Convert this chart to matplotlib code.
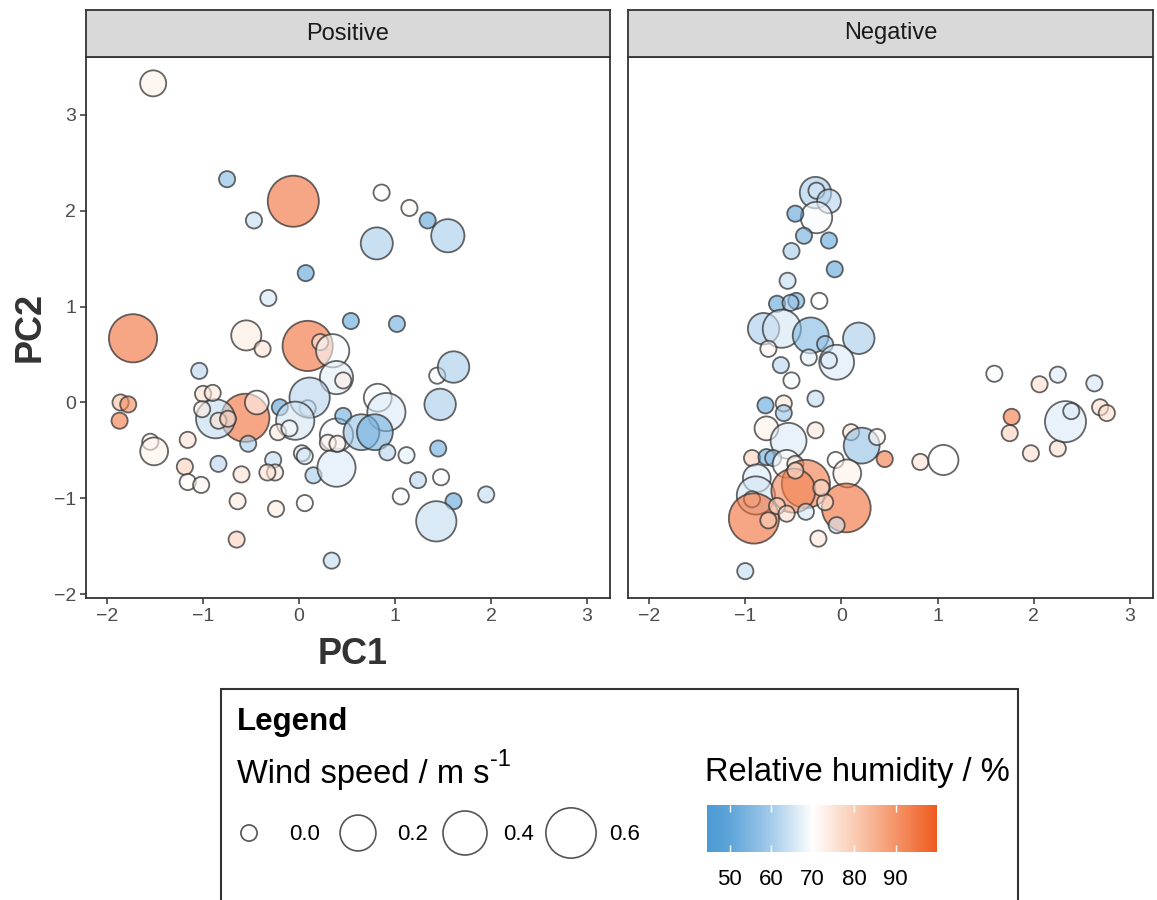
import numpy as np
import matplotlib.pyplot as plt
from matplotlib.colors import LinearSegmentedColormap, Normalize
from matplotlib.patches import Rectangle

plt.rcParams['font.family'] = ['Liberation Sans', 'DejaVu Sans']

W, H = 1157, 900

# PCA scores, wind speed (m/s) and relative humidity (%) for the positive group
pos_pc1 = [-1.52, -0.75, -0.06, -0.47, 0.07, -0.32, 0.86, 1.15, 1.34, 1.55,
           0.81, 0.54, 1.02, -1.73, -0.55, -0.38, 0.09, 0.22, 0.35, 0.39,
           0.46, -1.04, -1.86, -1.78, -1.87, -1.55, -1.51, -1.16, -1.19, -1.16,
           -1.02, -0.84, -0.60, -0.64, -0.65, -0.24, 0.06, 0.34, -0.56, -0.87,
           -0.44, -0.53, -1.00, -0.90, -1.01, -0.84, -0.74, -0.20, 0.09, 0.11,
           -0.04, -0.22, -0.10, -0.27, -0.25, -0.33, 0.03, 0.06, 0.15, 0.39,
           0.39, 0.30, 0.40, 0.46, 0.82, 0.91, 0.65, 0.79, 0.92, 1.12,
           1.44, 1.61, 1.47, 1.45, 1.24, 1.48, 1.06, 1.61, 1.95, 1.43]
pos_pc2 = [3.33, 2.33, 2.10, 1.90, 1.35, 1.09, 2.19, 2.03, 1.90, 1.74,
           1.66, 0.85, 0.82, 0.67, 0.70, 0.56, 0.59, 0.63, 0.54, 0.26,
           0.23, 0.33, 0.00, -0.02, -0.19, -0.41, -0.51, -0.39, -0.67, -0.83,
           -0.86, -0.64, -0.75, -1.03, -1.43, -1.11, -1.05, -1.65, -0.16, -0.17,
           0.00, -0.43, 0.09, 0.10, -0.07, -0.19, -0.17, -0.05, -0.06, 0.05,
           -0.19, -0.31, -0.27, -0.60, -0.73, -0.73, -0.53, -0.56, -0.76, -0.68,
           -0.34, -0.42, -0.43, -0.14, 0.05, -0.10, -0.31, -0.31, -0.52, -0.55,
           0.28, 0.37, -0.02, -0.48, -0.81, -0.78, -0.98, -1.03, -0.96, -1.24]
pos_ws = [0.05, 0, 0.63, 0, 0, 0, 0, 0, 0, 0.15,
          0.13, 0, 0, 0.53, 0.10, 0, 0.60, 0, 0.15, 0.15,
          0, 0, 0, 0, 0, 0, 0.07, 0, 0, 0,
          0, 0, 0, 0, 0, 0, 0, 0, 0.53, 0.27,
          0.03, 0, 0, 0, 0, 0, 0, 0, 0, 0.30,
          0.25, 0, 0, 0, 0, 0, 0, 0, 0, 0.25,
          0.15, 0, 0, 0, 0.07, 0.25, 0.20, 0.20, 0, 0,
          0, 0.12, 0.12, 0, 0, 0, 0, 0, 0, 0.30]
pos_rh = [73, 55, 97, 63, 49, 65, 70, 71, 49, 60,
          60, 50, 52, 97, 74, 76, 97, 75, 69, 67,
          74, 62, 82, 92, 95, 71, 73, 76, 79, 71,
          72, 62, 76, 74, 79, 74, 70, 63, 97, 63,
          72, 60, 76, 75, 74, 76, 79, 49, 67, 62,
          65, 74, 69, 63, 75, 76, 66, 65, 60, 66,
          69, 73, 73, 52, 69, 66, 58, 53, 62, 67,
          69, 60, 60, 52, 62, 69, 69, 50, 63, 63]

# same variables for the negative group
neg_pc1 = [-0.27, -0.26, -0.13, -0.26, -0.48, -0.39, -0.13, -0.52, -0.07, -0.56,
           -0.67, -0.47, -0.53, -0.23, -0.81, -0.62, -0.32, 0.18, -0.76, -0.17,
           -0.34, -0.05, -0.13, -0.63, -0.52, -0.27, -0.79, -0.60, -0.60, -0.78,
           -0.55, -0.27, 0.10, 0.21, 0.37, 0.45, -0.06, 0.06, -0.93, -0.78,
           -0.71, -0.57, -0.48, -0.88, -0.89, -0.93, -0.91, -0.37, -0.50, 0.05,
           -0.05, -0.24, -1.00, -0.37, -0.67, -0.57, -0.76, -0.17, -0.21, -0.48,
           0.82, 1.06, 1.59, 1.77, 1.75, 2.06, 2.25, 1.97, 2.25, 2.33,
           2.39, 2.63, 2.69, 2.76]
neg_pc2 = [2.19, 2.21, 2.10, 1.93, 1.97, 1.74, 1.69, 1.58, 1.39, 1.27,
           1.03, 1.06, 1.04, 1.06, 0.77, 0.77, 0.70, 0.67, 0.56, 0.61,
           0.47, 0.42, 0.44, 0.39, 0.23, 0.04, -0.03, -0.01, -0.11, -0.27,
           -0.40, -0.29, -0.31, -0.45, -0.36, -0.59, -0.60, -0.74, -0.58, -0.57,
           -0.58, -0.64, -0.64, -0.79, -0.97, -1.01, -1.21, -0.85, -0.92, -1.10,
           -1.28, -1.42, -1.76, -1.14, -1.08, -1.16, -1.23, -1.04, -0.89, -0.71,
           -0.62, -0.60, 0.30, -0.15, -0.32, 0.19, 0.29, -0.53, -0.48, -0.20,
           -0.09, 0.20, -0.05, -0.11]
neg_ws = [0.12, 0, 0.03, 0.12, 0, 0, 0, 0, 0, 0,
          0, 0, 0, 0, 0.12, 0.25, 0.20, 0.12, 0, 0,
          0, 0.18, 0, 0, 0, 0, 0, 0, 0, 0.03,
          0.20, 0, 0, 0.20, 0, 0, 0, 0.07, 0, 0,
          0, 0.07, 0, 0.07, 0.25, 0, 0.60, 0.53, 0.40, 0.55,
          0, 0, 0, 0, 0, 0, 0, 0, 0, 0,
          0, 0.10, 0, 0, 0, 0, 0, 0, 0, 0.32,
          0, 0, 0, 0]
neg_rh = [60, 65, 62, 69, 49, 52, 50, 60, 49, 63,
          50, 52, 58, 70, 60, 65, 55, 60, 72, 58,
          67, 66, 66, 62, 69, 63, 50, 75, 58, 73,
          66, 75, 76, 57, 72, 95, 70, 73, 79, 52,
          58, 70, 75, 66, 65, 74, 97, 95, 93, 97,
          65, 75, 63, 65, 77, 77, 79, 74, 76, 74,
          76, 70, 69, 95, 79, 77, 66, 77, 77, 66,
          66, 65, 77, 77]

panels = ['Positive', 'Negative']
ws_breaks = [0.0, 0.2, 0.4, 0.6]
rh_breaks = [50, 60, 70, 80, 90]
rh_lim = (44.5, 100)

# diverging palette anchored on humidity values, white at 70 %
rh_stops = [44.5, 50, 60, 70, 80, 90, 100]
rh_cols = ['#4d9bd6', '#5ea5d9', '#a5cbea', '#ffffff', '#fbcdb5', '#f5956a', '#ef5b1f']
cmap = LinearSegmentedColormap.from_list(
    'rh', [((v - rh_lim[0]) / (rh_lim[1] - rh_lim[0]), c) for v, c in zip(rh_stops, rh_cols)])
norm = Normalize(*rh_lim)


def marker_area(ws):
    # bubble diameter grows with sqrt of wind speed (area scale)
    d_px = 18 + 44 * np.sqrt(np.asarray(ws, dtype=float))
    d_pt = (d_px - 1.8) * 72 / 100
    return d_pt ** 2


def box(x0, y0, x1, y1):
    return [x0 / W, 1 - y1 / H, (x1 - x0) / W, (y1 - y0) / H]


fig = plt.figure(figsize=(W / 100, H / 100), dpi=100)

data = [(pos_pc1, pos_pc2, pos_ws, pos_rh), (neg_pc1, neg_pc2, neg_ws, neg_rh)]
edges = [(86, 610), (628, 1153)]

for i, (name, (pc1, pc2, ws, rh), (x0, x1)) in enumerate(zip(panels, data, edges)):
    ax = fig.add_axes(box(x0, 57, x1, 598))
    fc = cmap(norm(np.asarray(rh, dtype=float)))
    fc[:, 3] = 0.6
    ax.scatter(pc1, pc2, s=marker_area(ws), facecolors=fc,
               edgecolors=(0.2, 0.2, 0.2, 0.75), linewidths=1.3, zorder=3)
    ax.set_xlim(-2.22, 3.24)
    ax.set_ylim(-2.04, 3.605)
    ax.set_xticks([-2, -1, 0, 1, 2, 3])
    ax.set_yticks([-2, -1, 0, 1, 2, 3])
    for sp in ax.spines.values():
        sp.set_color('#333333')
        sp.set_linewidth(1.3)
    ax.tick_params(length=4, width=1.1, color='#333333', labelcolor='#4d4d4d',
                   labelsize=14, pad=3)
    if i > 0:
        ax.tick_params(axis='y', left=False, labelleft=False)

    strip = fig.add_axes(box(x0, 10, x1, 57))
    strip.set_facecolor('#d9d9d9')
    strip.set_xticks([])
    strip.set_yticks([])
    for sp in strip.spines.values():
        sp.set_color('#333333')
        sp.set_linewidth(1.3)
    strip.text(0.5, 0.5, name, ha='center', va='center', fontsize=17,
               color='#1a1a1a', transform=strip.transAxes)

fig.text(353 / W, 1 - 655 / H, 'PC1', ha='center', va='center',
         fontsize=26, fontweight='bold', color='#333333')
fig.text(30 / W, 1 - 327 / H, 'PC2', ha='center', va='center', rotation=90,
         fontsize=26, fontweight='bold', color='#333333')

# legend box below the panels
lax = fig.add_axes([0, 0, 1, 1])
lax.set_xlim(0, W)
lax.set_ylim(H, 0)
lax.axis('off')
lax.add_patch(Rectangle((221, 689), 797, 260, facecolor='white',
                        edgecolor='#333333', linewidth=1.5))
lax.text(237, 722, 'Legend', fontsize=22.5, fontweight='bold', va='center')
ws_title = lax.text(237, 775, 'Wind speed / m s', fontsize=23.5, va='center')
lax.text(705, 773, 'Relative humidity / %', fontsize=23.5, va='center')

# unit exponent set as a raised, smaller label after the title
fig.canvas.draw()
bb = ws_title.get_window_extent().transformed(lax.transData.inverted())
lax.text(max(bb.x0, bb.x1) + 1, 760, '-1', fontsize=17, va='center')

key_x = [249, 358, 465, 571]
lab_x = [305, 413, 519, 625]
lax.scatter(key_x, [833] * len(ws_breaks), s=marker_area(ws_breaks),
            facecolors='white', edgecolors='#555555', linewidths=1.2)
for lx, b in zip(lab_x, ws_breaks):
    lax.text(lx, 834, f'{b:.1f}', fontsize=16, ha='center', va='center')

cax = fig.add_axes(box(707, 805, 937, 852))
grad = np.linspace(rh_lim[0], rh_lim[1], 256)[None, :]
cax.imshow(grad, cmap=cmap, norm=norm, aspect='auto',
           extent=[rh_lim[0], rh_lim[1], 0, 1])
cax.set_xlim(*rh_lim)
cax.set_yticks([])
cax.set_xticks(rh_breaks)
cax.set_xticklabels([str(b) for b in rh_breaks])
cax.tick_params(axis='x', direction='in', color='white', length=5, width=1,
                labelsize=16, pad=12, top=True)
for sp in cax.spines.values():
    sp.set_visible(False)

fig.savefig('out.png', dpi=100)
